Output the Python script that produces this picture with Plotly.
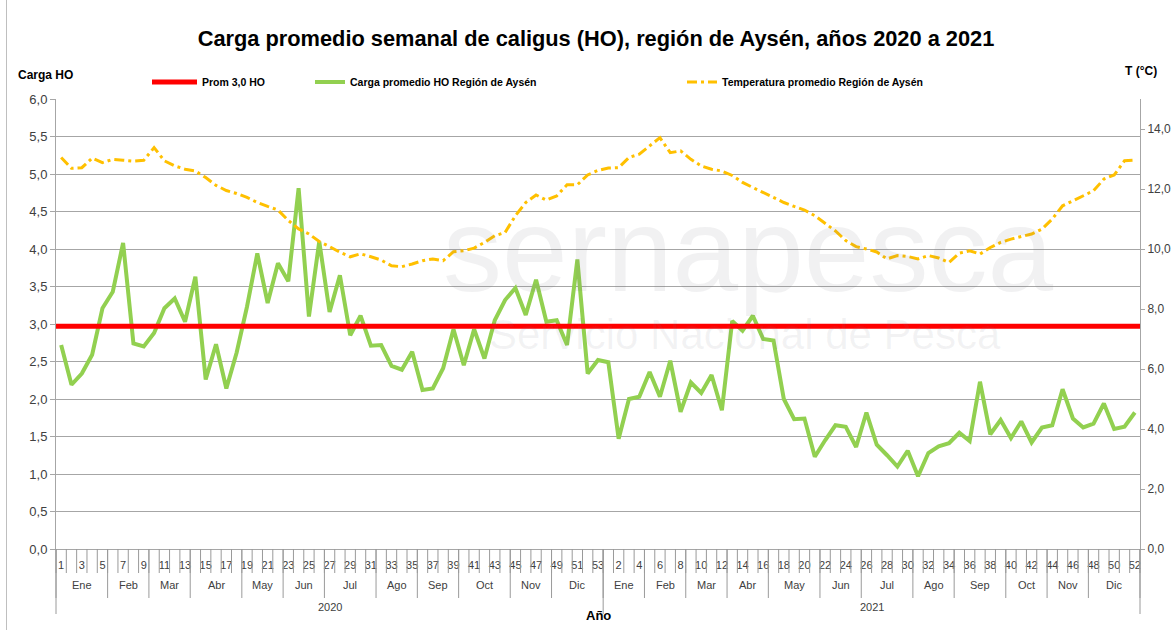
import plotly.graph_objects as go

# ---------------- data ----------------
weeks_2020 = list(range(1, 54))
weeks_2021 = list(range(1, 53))
years = ["2020", "2021"]
month_names = ["Ene", "Feb", "Mar", "Abr", "May", "Jun", "Jul", "Ago", "Sep", "Oct", "Nov", "Dic"]
month_weeks_2020 = [5, 4, 4, 5, 4, 4, 5, 4, 4, 5, 4, 5]
month_weeks_2021 = [4, 4, 4, 4, 5, 4, 5, 4, 5, 4, 4, 5]

carga_2020 = [2.72, 2.19, 2.34, 2.59, 3.21, 3.43, 4.08, 2.74, 2.70, 2.88,
              3.21, 3.34, 3.03, 3.63, 2.26, 2.73, 2.14, 2.62, 3.23, 3.94,
              3.28, 3.81, 3.57, 4.81, 3.10, 4.10, 3.16, 3.65, 2.85, 3.11,
              2.71, 2.72, 2.44, 2.39, 2.63, 2.12, 2.14, 2.41, 2.93, 2.45,
              2.93, 2.54, 3.05, 3.32, 3.48, 3.12, 3.59, 3.03, 3.05, 2.72,
              3.86, 2.34, 2.52]
carga_2021 = [2.49, 1.47, 2.00, 2.03, 2.36, 2.03, 2.51, 1.83, 2.22, 2.08,
              2.32, 1.85, 3.04, 2.91, 3.11, 2.80, 2.78, 2.00, 1.73, 1.74,
              1.23, 1.45, 1.65, 1.63, 1.36, 1.82, 1.39, 1.25, 1.10, 1.31,
              0.97, 1.28, 1.37, 1.41, 1.55, 1.44, 2.23, 1.53, 1.72, 1.48,
              1.70, 1.42, 1.62, 1.65, 2.13, 1.74, 1.62, 1.67, 1.94, 1.60,
              1.63, 1.82]
temp_2020 = [13.05, 12.69, 12.71, 13.03, 12.88, 12.99, 12.96, 12.93, 12.96, 13.38,
             12.94, 12.77, 12.66, 12.60, 12.38, 12.12, 11.95, 11.85, 11.72, 11.55,
             11.42, 11.30, 10.95, 10.67, 10.50, 10.25, 10.08, 9.89, 9.74, 9.84,
             9.74, 9.63, 9.44, 9.41, 9.50, 9.61, 9.67, 9.61, 9.91, 9.94,
             10.03, 10.22, 10.44, 10.55, 11.11, 11.55, 11.80, 11.63, 11.77, 12.14,
             12.14, 12.47, 12.62]
temp_2021 = [12.70, 12.71, 13.05, 13.16, 13.44, 13.71, 13.21, 13.27, 12.99, 12.77,
             12.66, 12.60, 12.45, 12.22, 12.05, 11.88, 11.72, 11.55, 11.42, 11.30,
             11.11, 10.85, 10.60, 10.28, 10.08, 10.00, 9.90, 9.67, 9.78, 9.75,
             9.67, 9.78, 9.70, 9.55, 9.86, 9.94, 9.83, 10.05, 10.22, 10.33,
             10.41, 10.50, 10.66, 11.00, 11.44, 11.60, 11.77, 11.94, 12.33, 12.47,
             12.94, 12.96]
prom_ho = 2.97

# ---------------- derived ----------------
weeks_all = weeks_2020 + weeks_2021
carga_all = carga_2020 + carga_2021
temp_all = temp_2020 + temp_2021
n = len(weeks_all)
idx = list(range(n))
tick_idx = idx[::2]
tick_txt = [str(weeks_all[i]) for i in tick_idx]

# geometry (page body margin is removed in post_script, so figure px == page px)
OFF = 0
W, H = 1172, 630
L, R, T, B = 56, 32, 99, 81
pw, ph = W - L - R, H - T - B
def px_x(p):
    return (p - OFF - L) / pw
def px_y(p):
    return (H - B - (p - OFF)) / ph

GRID = "#A6A6A6"
SEP = "#9A9A9A"
TXT = "#404040"
FONT = "Liberation Sans, Arial, sans-serif"

fig = go.Figure()

fig.add_trace(go.Scatter(
    x=idx, y=carga_all, mode="lines", name="<b>Carga promedio HO Región de Aysén</b>",
    line=dict(color="#92D050", width=4), legend="legend2", yaxis="y", showlegend=True))
fig.add_trace(go.Scatter(
    x=[idx[0] - 0.5] + idx + [idx[-1] + 0.5], y=[prom_ho] * (n + 2), mode="lines",
    name="<b>Prom 3,0 HO</b>", line=dict(color="#FF0000", width=5), legend="legend",
    yaxis="y", showlegend=True))
fig.add_trace(go.Scatter(
    x=idx, y=temp_all, mode="lines", name="<b>Temperatura promedio Región de Aysén</b>",
    line=dict(color="#FFC000", width=3, dash="10px,4px,3px,4px"),
    legend="legend3", yaxis="y2", showlegend=True))

# ---- category separators below x axis ----
AXIS_Y = 549  # page pixel of the x axis line
def vpath(ks, depth_px):
    y1 = px_y(AXIS_Y + depth_px)
    return "".join(f"M{k / n},0 L{k / n},{y1} " for k in ks)

shapes = []
shapes.append(dict(type="path", xref="paper", yref="paper", path=vpath(range(n + 1), 24),
                   line=dict(color=SEP, width=1)))
month_bounds = []
acc = 0
for c in month_weeks_2020 + month_weeks_2021:
    month_bounds.append(acc)
    acc += c
month_bounds.append(acc)
shapes.append(dict(type="path", xref="paper", yref="paper", path=vpath(month_bounds, 49),
                   line=dict(color=SEP, width=1)))
year_bounds = [0, len(weeks_2020), n]
shapes.append(dict(type="path", xref="paper", yref="paper", path=vpath(year_bounds, 65),
                   line=dict(color=SEP, width=1)))
# chart frame (left edge)
shapes.append(dict(type="line", xref="paper", yref="paper", x0=px_x(6.5), x1=px_x(6.5),
                   y0=px_y(0), y1=px_y(640), line=dict(color="#BFBFBF", width=1)))

annotations = []
# month labels
acc = 0
for name, c in zip(month_names * 2, month_weeks_2020 + month_weeks_2021):
    annotations.append(dict(x=acc + c / 2 - 0.5, y=px_y(585), xref="x", yref="paper",
                            text=name, showarrow=False, xanchor="center", yanchor="middle",
                            font=dict(size=11, color=TXT, family=FONT)))
    acc += c
# year labels
starts = [0, len(weeks_2020)]
counts = [len(weeks_2020), len(weeks_2021)]
for yname, s, c in zip(years, starts, counts):
    annotations.append(dict(x=s + c / 2 - 0.5, y=px_y(607), xref="x", yref="paper",
                            text=yname, showarrow=False, xanchor="center", yanchor="middle",
                            font=dict(size=11, color=TXT, family=FONT)))
annotations.append(dict(x=px_x(598), y=px_y(615), xref="paper", yref="paper", text="<b>Año</b>",
                        showarrow=False, xanchor="center", yanchor="middle",
                        font=dict(size=13, color="#000", family=FONT)))
annotations.append(dict(x=px_x(45), y=px_y(75), xref="paper", yref="paper", text="<b>Carga HO</b>",
                        showarrow=False, xanchor="center", yanchor="middle",
                        font=dict(size=12, color="#000", family=FONT)))
annotations.append(dict(x=px_x(1141), y=px_y(71), xref="paper", yref="paper", text="<b>T (°C)</b>",
                        showarrow=False, xanchor="center", yanchor="middle",
                        font=dict(size=12, color="#000", family=FONT)))
# watermark
annotations.append(dict(x=px_x(748), y=px_y(250), xref="paper", yref="paper", text="sernapesca",
                        showarrow=False, xanchor="center", yanchor="middle",
                        font=dict(size=118, color="rgba(120,120,130,0.10)", family=FONT)))
annotations.append(dict(x=px_x(745), y=px_y(334), xref="paper", yref="paper",
                        text="Servicio Nacional de Pesca", showarrow=False,
                        xanchor="center", yanchor="middle",
                        font=dict(size=42, color="rgba(120,120,130,0.09)", family=FONT)))

leg_common = dict(orientation="h", yanchor="middle", xanchor="left", bgcolor="rgba(0,0,0,0)",
                  font=dict(size=10.5, color="#000", family="Liberation Sans, Arial"))

fig.update_layout(
    width=W, height=H,
    margin=dict(l=L, r=R, t=T, b=B, autoexpand=False),
    paper_bgcolor="white", plot_bgcolor="white",
    separators=",.",
    showlegend=True,
    font=dict(family=FONT, color=TXT),
    title=dict(text="<b>Carga promedio semanal de caligus (HO), región de Aysén, años 2020 a 2021</b>",
               x=(596 - OFF) / W, xref="container", xanchor="center",
               y=1 - (38 - OFF) / H, yref="container", yanchor="middle",
               font=dict(size=21.8, color="#000", family=FONT)),
    xaxis=dict(range=[-0.5, n - 0.5], tickmode="array", tickvals=tick_idx, ticktext=tick_txt,
               showgrid=False, zeroline=False, showline=True, linecolor=GRID, linewidth=1,
               ticks="outside", ticklen=6, tickcolor="rgba(0,0,0,0)",
               tickfont=dict(size=11, color=TXT)),
    yaxis=dict(range=[0, 6], dtick=0.5, tickformat=".1f", showgrid=True, gridcolor=GRID,
               gridwidth=1, zeroline=False, showline=True, linecolor=GRID, ticks="outside",
               ticklen=5, tickcolor=GRID, tickfont=dict(size=13, color=TXT)),
    yaxis2=dict(range=[0, 15], tickmode="array", tickvals=list(range(0, 15, 2)), tickformat=".1f",
                overlaying="y", side="right", showgrid=False, zeroline=False, showline=True,
                linecolor=GRID, ticks="outside", ticklen=4, tickcolor=GRID,
                tickfont=dict(size=12, color=TXT)),
    legend=dict(x=px_x(147), y=px_y(82), itemwidth=45, **leg_common),
    legend2=dict(x=px_x(310), y=px_y(82), itemwidth=30, **leg_common),
    legend3=dict(x=px_x(682), y=px_y(82), itemwidth=30, **leg_common),
    shapes=shapes,
    annotations=annotations,
)

fig.write_html("out.html", config={"displayModeBar": False},
               post_script="document.body.style.margin='0';document.body.style.overflow='hidden';")
